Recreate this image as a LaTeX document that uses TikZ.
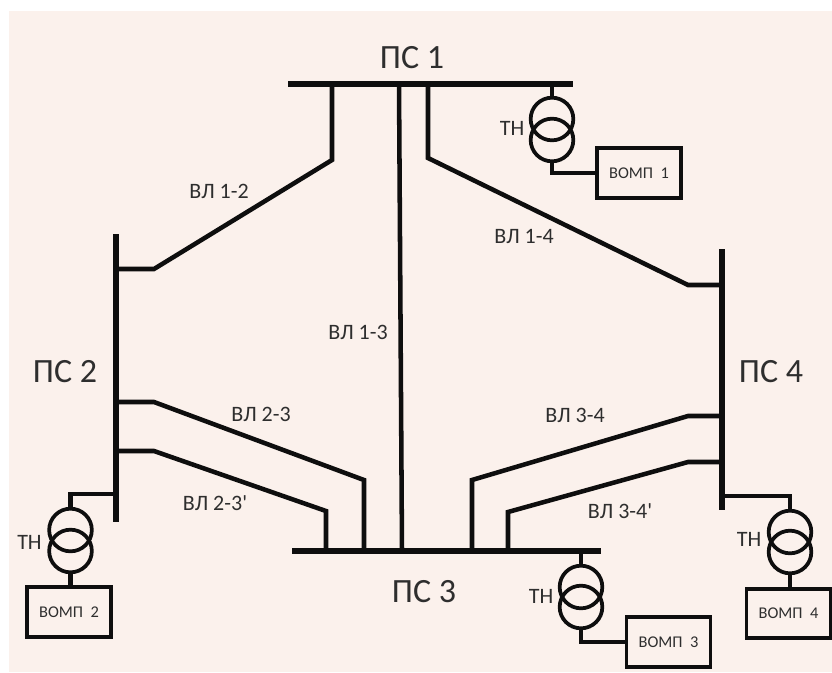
\documentclass[tikz,border=0pt]{standalone}
\usepackage{fontspec}
\setmainfont{Carlito}
\definecolor{paper}{HTML}{FBF1EC}
\definecolor{ink}{HTML}{0E0E0E}
\definecolor{labelink}{HTML}{2E2E2E}
\begin{document}
\begin{tikzpicture}[
    x=0.75pt, y=-0.75pt,
    bus/.style={draw=ink, line width=4pt},
    feeder/.style={draw=ink, line width=3.4pt},
    tap/.style={draw=ink, line width=3.2pt},
    coil/.style={circle, draw=ink, line width=2.8pt, minimum size=32pt, inner sep=0pt},
    relay/.style={rectangle, draw=ink, line width=2.8pt, minimum width=63pt, minimum height=37pt,
                  inner sep=0pt, text=labelink, font=\fontsize{12.3}{14}\selectfont},
    substation/.style={text=labelink, inner sep=0pt, font=\fontsize{25.5}{28}\selectfont},
    linelabel/.style={text=labelink, inner sep=0pt, font=\fontsize{16.5}{18}\selectfont}]
  \useasboundingbox (0,0) rectangle (832,672);
  \fill[paper] (9,11) rectangle (832,672);
  % busbars
  \coordinate (ps1w) at (288,84);
  \coordinate (ps1e) at (573,84);
  \coordinate (ps2n) at (116,234);
  \coordinate (ps2s) at (116,522);
  \coordinate (ps3w) at (292,551);
  \coordinate (ps3e) at (601,551);
  \coordinate (ps4n) at (722,249);
  \coordinate (ps4s) at (722,510);
  \draw[bus] (ps1w) -- (ps1e);
  \draw[bus] (ps2n) -- (ps2s);
  \draw[bus] (ps3w) -- (ps3e);
  \draw[bus] (ps4n) -- (ps4s);
  \node[substation] (name1) at (412,58) {ПС 1};
  \node[substation] (name2) at (65,372) {ПС 2};
  \node[substation] (name3) at (424,592) {ПС 3};
  \node[substation] (name4) at (771,372) {ПС 4};
  % line ends on the bars
  \coordinate (l12a) at (332,84);
  \coordinate (l12b) at (332,160);
  \coordinate (l12c) at (154,269);
  \coordinate (l12d) at (116,269);
  \coordinate (l13a) at (399,84);
  \coordinate (l13b) at (402,551);
  \coordinate (l14a) at (428,84);
  \coordinate (l14b) at (428,158);
  \coordinate (l14c) at (688,285);
  \coordinate (l14d) at (722,285);
  \coordinate (l23a) at (116,402);
  \coordinate (l23b) at (154,402);
  \coordinate (l23c) at (364,480);
  \coordinate (l23d) at (364,551);
  \coordinate (m23a) at (116,451);
  \coordinate (m23b) at (154,451);
  \coordinate (m23c) at (326,511);
  \coordinate (m23d) at (326,551);
  \coordinate (l34a) at (722,416);
  \coordinate (l34b) at (688,416);
  \coordinate (l34c) at (472,480);
  \coordinate (l34d) at (472,551);
  \coordinate (m34a) at (722,462);
  \coordinate (m34b) at (688,462);
  \coordinate (m34c) at (508,512);
  \coordinate (m34d) at (508,551);
  \draw[feeder] (l12a) -- (l12b) -- (l12c) -- (l12d);
  \draw[feeder] (l13a) -- (l13b);
  \draw[feeder] (l14a) -- (l14b) -- (l14c) -- (l14d);
  \draw[feeder] (l23a) -- (l23b) -- (l23c) -- (l23d);
  \draw[feeder] (m23a) -- (m23b) -- (m23c) -- (m23d);
  \draw[feeder] (l34a) -- (l34b) -- (l34c) -- (l34d);
  \draw[feeder] (m34a) -- (m34b) -- (m34c) -- (m34d);
  \node[linelabel] (v12) at (219,191) {ВЛ 1-2};
  \node[linelabel] (v13) at (358,332) {ВЛ 1-3};
  \node[linelabel] (v14) at (524,236) {ВЛ 1-4};
  \node[linelabel] (v23) at (261,414) {ВЛ 2-3};
  \node[linelabel] (w23) at (215,503) {ВЛ 2-3\textquotesingle};
  \node[linelabel] (v34) at (575,415) {ВЛ 3-4};
  \node[linelabel] (w34) at (620,511) {ВЛ 3-4\textquotesingle};
  % voltage transformers
  \node[coil] (th1a) at (552,119) {};
  \node[coil] (th1b) at (552,140) {};
  \node[coil] (th2a) at (70.5,530) {};
  \node[coil] (th2b) at (70.5,551) {};
  \node[coil] (th3a) at (581,587) {};
  \node[coil] (th3b) at (581,607) {};
  \node[coil] (th4a) at (790,532) {};
  \node[coil] (th4b) at (790,552) {};
  \node[linelabel] (tn1) at (512,128) {ТН};
  \node[linelabel] (tn2) at (29.5,542) {ТН};
  \node[linelabel] (tn3) at (541,596) {ТН};
  \node[linelabel] (tn4) at (749,539) {ТН};
  % relays
  \node[relay] (vomp1) at (639,173) {ВОМП\ \ 1};
  \node[relay] (vomp2) at (69,612) {ВОМП\ \ 2};
  \node[relay] (vomp3) at (668.5,642) {ВОМП\ \ 3};
  \node[relay] (vomp4) at (788.5,613.5) {ВОМП\ \ 4};
  \coordinate (t1) at (552,84);
  \coordinate (t2) at (116,494);
  \coordinate (t3) at (581,551);
  \coordinate (t4) at (722,496);
  \draw[tap] (t1) -- (th1a.north);
  \draw[tap] (t2) -| (th2a.north);
  \draw[tap] (t3) -- (th3a.north);
  \draw[tap] (t4) -| (th4a.north);
  \draw[tap] (th1b.south) |- (vomp1.west);
  \draw[tap] (th2b.south) -- (th2b.south |- vomp2.north);
  \draw[tap] (th3b.south) |- (vomp3.west);
  \draw[tap] (th4b.south) -- (th4b.south |- vomp4.north);
\end{tikzpicture}
\end{document}
